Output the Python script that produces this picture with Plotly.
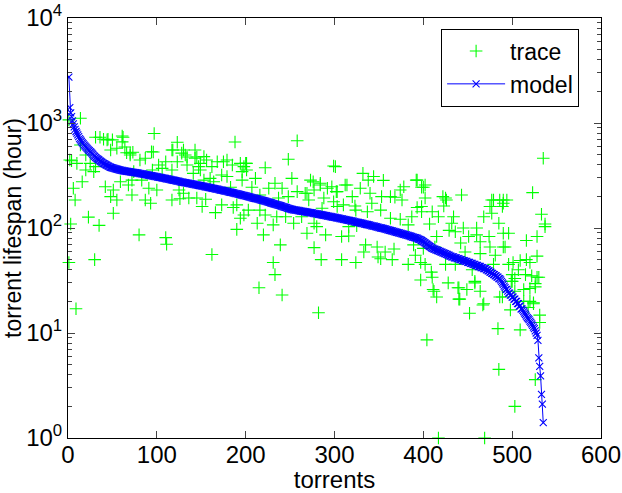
import plotly.graph_objects as go

# ---------------- data ----------------
# model: fitted lifespan (hours) for torrents ranked 1..535
model_y = [
    2740, 1400, 1250, 1150, 1050, 980, 920, 870, 830, 800,
    770, 740, 710, 690, 670, 650, 635, 620, 605, 592,
    580, 568, 556, 545, 535, 524, 513, 502, 490, 480,
    471, 463, 456, 449, 442, 436, 430, 424, 418, 413,
    408, 403, 398, 394, 390, 386, 382, 379, 376, 373,
    371, 369, 367, 365, 363, 361, 359, 357, 356, 354,
    353, 351, 350, 349, 348, 347, 346, 345, 344, 343,
    341, 340, 339, 338, 337, 336, 335, 334, 333, 332,
    330, 329, 328, 327, 326, 324, 323, 322, 321, 320,
    318, 317, 316, 315, 314, 312, 311, 310, 309, 308,
    306, 305, 304, 303, 302, 300, 299, 298, 297, 296,
    294, 293, 292, 291, 290, 288, 287, 286, 285, 284,
    282, 281, 280, 279, 278, 276, 275, 274, 273, 272,
    271, 270, 269, 268, 267, 266, 265, 264, 263, 262,
    261, 260, 259, 258, 257, 256, 255, 254, 253, 252,
    251, 250, 249, 248, 247, 246, 245, 244, 243, 242,
    241, 240, 239, 238, 237, 236, 235, 234, 233, 232,
    231, 230, 229, 228, 227, 226, 225, 224, 223, 222,
    221, 220, 219, 218, 217, 216, 215, 214, 213, 212,
    211, 210, 209, 208, 207, 206, 205, 204, 203, 202,
    201, 200, 199, 198, 197, 196, 195, 194, 193, 192,
    191, 190, 189, 188, 187, 186, 185, 184, 183, 182,
    181, 180, 179, 178, 177, 176, 175, 174, 173, 172,
    171, 170, 169, 168, 167, 166, 165, 164, 163, 162,
    161, 160, 159, 158, 157, 156, 155, 154, 153, 152,
    151, 150, 150, 149, 149, 148, 148, 147, 147, 146,
    146, 145, 145, 144, 144, 143, 143, 142, 142, 141,
    141, 140, 140, 139, 139, 138, 138, 137, 137, 136,
    136, 135, 135, 134, 134, 133, 133, 132, 132, 131,
    131, 130, 130, 129, 129, 128, 128, 127, 127, 126,
    126, 125, 125, 124, 124, 123, 123, 122, 122, 121,
    121, 120, 120, 119, 119, 118, 118, 117, 117, 116,
    116, 115, 115, 114, 114, 113, 113, 112, 112, 111,
    111, 110, 110, 109, 109, 108, 108, 107, 107, 106,
    106, 105, 105, 104, 104, 103, 103, 102, 102, 101,
    101, 100, 100, 99, 99, 98, 98, 97, 97, 96,
    96, 95, 95, 94, 94, 93, 93, 92, 92, 91,
    91, 90, 90, 89, 89, 88, 88, 87, 87, 86,
    86, 85, 85, 84, 84, 83, 83, 82, 82, 81,
    81, 80, 80, 79, 78, 78, 77, 76, 75, 74,
    73, 72, 71, 70, 69, 68, 67, 66, 65, 64,
    64, 63, 63, 62, 62, 61, 61, 60, 60, 59,
    59, 58, 58, 57, 57, 56, 56, 55, 55, 54,
    54, 53, 53, 53, 52, 52, 52, 51, 51, 51,
    50, 50, 50, 49, 49, 49, 48, 48, 48, 47,
    47, 47, 46, 46, 46, 45, 45, 45, 44, 44,
    44, 43, 43, 43, 42, 42, 42, 41, 41, 41,
    40, 40, 39, 39, 38, 38, 37, 37, 36, 36,
    35, 35, 34, 34, 33, 33, 32, 31, 30, 29,
    28, 27, 26, 26, 25, 24, 24, 23, 23, 22,
    22, 21, 21, 20, 20, 19, 19, 18, 18, 17,
    17, 16.5, 16, 15.5, 15, 14.5, 14, 13.7, 13.4, 13,
    12.6, 12.2, 11.8, 11.4, 11, 10.5, 10, 9.5,
    8.5, 5.8, 4.8, 3.9, 2.6, 2.1, 1.4,
]
model_x = list(range(1, len(model_y) + 1))

# trace: measured lifespan (hours) per torrent
trace_x = [
    14, 31, 36, 40, 61, 61, 97, 48, 55, 66, 70, 94, 14, 20, 4, 10, 25, 31, 20, 29,
    74, 81, 87, 72, 83, 16, 59, 42, 6, 68, 51, 91, 72, 48, 8, 55, 87, 93, 51, 23,
    35, 3, 80, 30, 1, 9, 2, 62, 45, 50, 1, 44, 64, 70, 73, 96, 118, 128, 134,
    123, 188, 117, 130, 143, 132, 143, 153, 110, 123, 168, 179, 194, 102, 134, 147, 162, 185, 198, 106, 117,
    149, 95, 141, 173, 179, 196, 196, 160, 153, 164, 100, 125, 183, 130, 117, 126, 136, 145, 155, 173,
    151, 186, 190, 166, 198, 194, 190, 110, 111, 162, 145, 149, 156, 175, 201,
    258, 248, 299, 200, 201, 222, 211, 252, 273, 284, 233, 207, 226, 241, 258, 267, 277, 292, 288, 248,
    237, 216, 271, 203, 216, 286, 222, 235, 245, 263, 213, 231, 254, 277, 280, 269, 290, 220, 239, 277,
    285, 231, 233, 215, 241, 282, 269, 276, 284, 297, 302, 314,
    301, 332, 344, 338, 355, 312, 329, 378, 374, 393, 398, 303, 320, 340, 353, 363, 368, 376, 342, 299,
    310, 323, 352, 393, 337, 324, 398, 303, 387, 316, 325, 363, 374, 383, 308, 316, 335, 348, 333, 357,
    367, 352, 365, 308, 324, 389, 383, 397, 397, 391, 349, 404, 409, 411, 415, 417, 428, 439, 441, 449,
    452, 458, 464, 467, 469, 484, 485, 486, 498, 503, 509, 520, 524, 526, 531, 531, 528, 526,
    392, 402, 422, 426,
    443, 400, 402, 425, 423, 398, 410, 417, 434, 407, 432, 468, 479, 490, 475, 489, 477, 485, 429, 436,
    445, 460, 415, 451, 460, 474, 490, 496, 464, 442, 475, 490, 400, 413, 447, 464, 481, 402, 425, 436,
    479, 496, 455, 500, 410, 458, 500, 440, 412, 440, 489, 468, 486, 490, 477,
    535, 523, 533, 537, 537, 494, 528, 516, 492, 528, 501, 509, 516, 520, 507, 515, 522, 530, 503, 499,
    513, 520, 526, 503, 513, 524, 518,
]
trace_y = [
    1110, 731, 731, 700, 752, 661, 795, 553, 574, 521, 495, 533, 617, 495, 437, 413, 413, 384, 357, 344,
    344, 444, 461, 286, 286, 276, 276, 247, 239, 257, 230, 239, 206, 199, 185, 185, 185, 172, 138, 127,
    106, 109, 86, 50, 47, 17, 444, 731, 700, 690, 1070, 690, 590, 516, 527, 530, 553, 516, 475,
    655, 660, 553, 553, 553, 495, 461, 478, 428, 428, 428, 444, 413, 398, 398, 384, 384, 398, 384, 370, 357,
    357, 357, 331, 320, 309, 344, 286, 297, 286, 276, 230, 230, 244, 214, 185, 190, 193, 193, 188, 166,
    160, 157, 166, 140, 133, 124, 97, 81, 70, 56, 475, 413, 444, 428, 413,
    677, 451, 389, 413, 357, 375, 297, 297, 286, 267, 267, 244, 239, 239, 222, 214, 230, 239, 193, 199,
    193, 206, 185, 148, 148, 154, 133, 128, 128, 128, 111, 107, 111, 111, 103, 89, 86, 86, 69, 65,
    50, 47, 36, 27, 23, 15.6, 214, 275, 257, 247, 222, 257,
    384, 331, 309, 286, 284, 257, 239, 247, 230, 286, 244, 222, 199, 214, 199, 199, 196, 185, 172, 178,
    166, 162, 148, 157, 143, 148, 143, 160, 128, 103, 105, 124, 121, 107, 83, 84, 69, 66, 59, 59,
    63, 51, 50, 50, 47, 69, 45, 47, 32, 55, 53, 8.6, 38, 26, 22, 1.0, 30, 27, 21, 26,
    15.4, 30, 25, 18.5, 1.0, 11, 4.5, 22, 16.6, 2.0, 10.7, 20, 19, 3.6, 14.8, 12.6, 34, 27.5,
    286, 257, 199, 185,
    206, 244, 193, 193, 162, 160, 143, 128, 128, 109, 111, 128, 185, 185, 160, 160, 138, 111, 95, 92,
    100, 100, 83, 83, 86, 83, 89, 89, 74, 72, 66, 66, 64, 66, 59, 57, 55, 45, 45, 45,
    45, 45, 40, 36, 34, 31, 31, 27, 25, 21, 22, 19, 185, 172, 185,
    461, 217, 135, 109, 103, 185, 83, 76, 66, 54, 47, 49, 50, 47, 40, 36, 35, 34, 33, 31,
    26, 26.5, 29.5, 25, 20, 19.4, 17.5,
]

x_ticks = [0, 100, 200, 300, 400, 500, 600]
y_ticks = [1, 10, 100, 1000, 10000]
y_ticktext = ["10<sup>0</sup>", "10<sup>1</sup>", "10<sup>2</sup>", "10<sup>3</sup>", "10<sup>4</sup>"]
y_minor = [m * 10 ** k for k in range(0, 4) for m in range(2, 10)]

FONT = "Liberation Sans, Arial, Helvetica, sans-serif"

fig = go.Figure()
fig.add_trace(go.Scatter(
    x=trace_x, y=trace_y, mode="markers", name="trace",
    marker=dict(symbol="cross-thin", size=9, color="#00ff00",
                line=dict(color="#00ff00", width=1.1)),
    cliponaxis=False,
))
fig.add_trace(go.Scatter(
    x=model_x, y=model_y, mode="lines+markers", name="model",
    line=dict(color="#0000ff", width=1),
    marker=dict(symbol="x-thin", size=7, color="#0000ff",
                line=dict(color="#0000ff", width=1.1)),
))

fig.update_layout(
    width=622, height=493,
    margin=dict(l=68, r=21, t=18, b=55, autoexpand=False),
    paper_bgcolor="white", plot_bgcolor="white",
    font=dict(family=FONT, size=24, color="black"),
    legend=dict(x=0.70, y=0.975, xanchor="left", yanchor="top",
                bordercolor="black", borderwidth=1, bgcolor="white",
                font=dict(family=FONT, size=23, color="black"),
                itemwidth=58, tracegroupgap=0),
)
fig.update_xaxes(
    range=[0, 600], tickvals=x_ticks, ticks="inside", ticklen=7,
    showline=True, linecolor="black", linewidth=1, mirror="ticks",
    showgrid=False, zeroline=False, automargin=False,
    ticklabelstandoff=-5,
    tickfont=dict(family=FONT, size=24, color="black"),
    title=dict(text="torrents", font=dict(family=FONT, size=24), standoff=0),
)
fig.update_yaxes(
    type="log", range=[0, 4], tickvals=y_ticks, ticktext=y_ticktext,
    ticks="inside", ticklen=7,
    minor=dict(tickvals=y_minor, ticks="inside", ticklen=4, showgrid=False),
    showline=True, linecolor="black", linewidth=1, mirror="ticks",
    showgrid=False, zeroline=False, automargin=False,
    tickfont=dict(family=FONT, size=24, color="black"),
    title=dict(text="torrent lifespan (hour)", font=dict(family=FONT, size=23), standoff=0),
)

fig.write_html("out.html")
